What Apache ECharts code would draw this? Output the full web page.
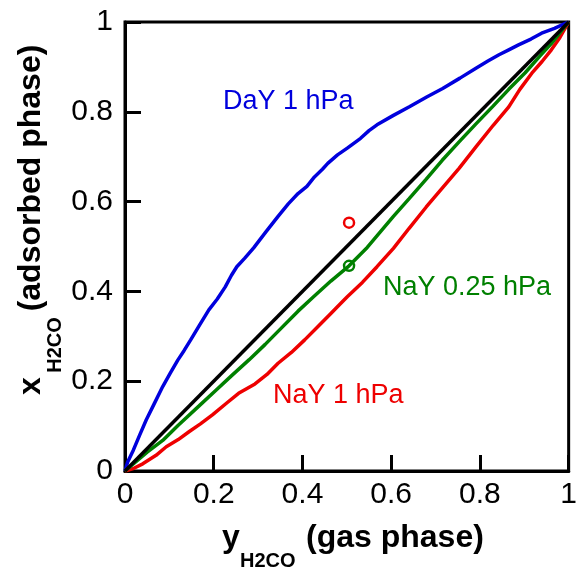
<!DOCTYPE html>
<html>
<head>
<meta charset="utf-8">
<script src="https://cdn.jsdelivr.net/npm/echarts@6/dist/echarts.min.js"></script>
<style>
html,body{margin:0;padding:0;background:#fff;}
#main{width:580px;height:575px;}
</style>
</head>
<body>
<div id="main"></div>
<script>
// ---- data ----
const xTicks = [0, 0.2, 0.4, 0.6, 0.8, 1];
const yTicks = [0, 0.2, 0.4, 0.6, 0.8, 1];

const diagonal = [[0, 0], [1, 1]];

const dayY1hPa = [
  [0, 0], [0.006, 0.02], [0.019, 0.047], [0.033, 0.08], [0.048, 0.114], [0.066, 0.15],
  [0.085, 0.188], [0.102, 0.218], [0.119, 0.247], [0.133, 0.268], [0.148, 0.292],
  [0.168, 0.325], [0.189, 0.359], [0.208, 0.383], [0.226, 0.410], [0.240, 0.436],
  [0.252, 0.455], [0.270, 0.474], [0.290, 0.497], [0.318, 0.533], [0.345, 0.567],
  [0.368, 0.595], [0.390, 0.618], [0.410, 0.634], [0.427, 0.655], [0.445, 0.672],
  [0.457, 0.685], [0.479, 0.704], [0.501, 0.719], [0.531, 0.741], [0.550, 0.758],
  [0.568, 0.771], [0.605, 0.792], [0.642, 0.812], [0.680, 0.833], [0.716, 0.852],
  [0.755, 0.875], [0.791, 0.897], [0.818, 0.913], [0.843, 0.927], [0.865, 0.938],
  [0.887, 0.949], [0.915, 0.962], [0.939, 0.975], [0.968, 0.986], [0.995, 0.998], [1, 1]
];

const naY025hPa = [
  [0, 0], [0.02, 0.017], [0.05, 0.042], [0.085, 0.068], [0.12, 0.102], [0.167, 0.145],
  [0.205, 0.180], [0.241, 0.213], [0.280, 0.248], [0.316, 0.282], [0.350, 0.316],
  [0.390, 0.356], [0.425, 0.388], [0.464, 0.423], [0.505, 0.457], [0.546, 0.498],
  [0.575, 0.532], [0.605, 0.567], [0.640, 0.606], [0.679, 0.650], [0.715, 0.692],
  [0.753, 0.733], [0.790, 0.772], [0.828, 0.811], [0.865, 0.850], [0.902, 0.887],
  [0.935, 0.924], [0.961, 0.952], [0.985, 0.982], [1, 1]
];

const naY1hPa = [
  [0, 0], [0.02, 0.006], [0.04, 0.016], [0.07, 0.035], [0.093, 0.054], [0.12, 0.070],
  [0.145, 0.088], [0.17, 0.105], [0.197, 0.125], [0.23, 0.152], [0.256, 0.173],
  [0.293, 0.194], [0.32, 0.215], [0.345, 0.240], [0.375, 0.264], [0.405, 0.292],
  [0.435, 0.322], [0.464, 0.351], [0.486, 0.373], [0.501, 0.388], [0.535, 0.420],
  [0.568, 0.455], [0.605, 0.496], [0.64, 0.540], [0.679, 0.588], [0.715, 0.630],
  [0.753, 0.674], [0.791, 0.722], [0.83, 0.770], [0.865, 0.811], [0.89, 0.850],
  [0.917, 0.886], [0.94, 0.912], [0.961, 0.938], [0.98, 0.965], [1, 1]
];

const pointRed = [[0.505, 0.553]];
const pointGreen = [[0.505, 0.457]];

const seriesLabels = ['DaY 1 hPa', 'NaY 0.25 hPa', 'NaY 1 hPa'];
const xTitle = ['y', 'H2CO', '(gas phase)'];
const yTitle = ['x', 'H2CO', '(adsorbed phase)'];

// ---- chart ----
const chart = echarts.init(document.getElementById('main'), null, {renderer: 'canvas'});
const FONT = 'Liberation Sans, Arial, Helvetica, sans-serif';
const BLUE = '#0000dd', GREEN = '#008000', RED = '#ee0000';

const axisCommon = {
  type: 'value', min: 0, max: 1, interval: 0.2,
  axisLine: {show: true, lineStyle: {color: '#000', width: 3}},
  axisTick: {show: true, inside: true, length: 16, lineStyle: {color: '#000', width: 3}},
  splitLine: {show: false},
  axisLabel: {color: '#000', fontSize: 30, fontFamily: FONT,
    formatter: v => String(Math.round(v * 10) / 10)}
};

const option = {
  backgroundColor: '#fff',
  animation: false,
  grid: {left: 125, top: 22, width: 449, height: 449, show: true,
         borderColor: '#000', borderWidth: 3, backgroundColor: 'transparent'},
  xAxis: Object.assign({}, axisCommon, {axisLabel: Object.assign({}, axisCommon.axisLabel, {margin: 9})}),
  yAxis: Object.assign({}, axisCommon, {axisLabel: Object.assign({}, axisCommon.axisLabel, {margin: 12})}),
  series: [
    {type: 'line', data: dayY1hPa, showSymbol: false, lineStyle: {color: BLUE, width: 3.5}},
    {type: 'line', data: naY1hPa, showSymbol: false, lineStyle: {color: RED, width: 3.5}},
    {type: 'line', data: naY025hPa, showSymbol: false, lineStyle: {color: GREEN, width: 3.5}},
    {type: 'line', data: diagonal, showSymbol: false, lineStyle: {color: '#000', width: 3.5}},
    {type: 'scatter', data: pointRed, symbol: 'circle', symbolSize: 10,
     itemStyle: {color: '#fff', borderColor: RED, borderWidth: 2.5, opacity: 1}},
    {type: 'scatter', data: pointGreen, symbol: 'circle', symbolSize: 10,
     itemStyle: {color: '#fff', borderColor: GREEN, borderWidth: 2.5, opacity: 1}}
  ],
  graphic: [
    {type: 'text', x: 223, y: 102, style: {text: seriesLabels[0], fill: BLUE, font: '27px ' + FONT, align: 'left', verticalAlign: 'middle'}},
    {type: 'text', x: 383, y: 288, style: {text: seriesLabels[1], fill: GREEN, font: '27px ' + FONT, align: 'left', verticalAlign: 'middle'}},
    {type: 'text', x: 273, y: 396, style: {text: seriesLabels[2], fill: RED, font: '27px ' + FONT, align: 'left', verticalAlign: 'middle'}},
    // x-axis title
    {type: 'text', x: 222, y: 538, style: {text: xTitle[0], fill: '#000', font: 'bold 32px ' + FONT, align: 'left', verticalAlign: 'middle'}},
    {type: 'text', x: 240, y: 561, style: {text: xTitle[1], fill: '#000', font: 'bold 20px ' + FONT, align: 'left', verticalAlign: 'middle'}},
    {type: 'text', x: 306, y: 538, style: {text: xTitle[2], fill: '#000', font: 'bold 32px ' + FONT, align: 'left', verticalAlign: 'middle'}},
    // y-axis title (rotated)
    {type: 'text', x: 31, y: 386, rotation: Math.PI / 2, style: {text: yTitle[0], fill: '#000', font: 'bold 32px ' + FONT, align: 'center', verticalAlign: 'middle'}},
    {type: 'text', x: 55, y: 345, rotation: Math.PI / 2, style: {text: yTitle[1], fill: '#000', font: 'bold 20px ' + FONT, align: 'center', verticalAlign: 'middle'}},
    {type: 'text', x: 31, y: 178, rotation: Math.PI / 2, style: {text: yTitle[2], fill: '#000', font: 'bold 32px ' + FONT, align: 'center', verticalAlign: 'middle'}}
  ]
};
chart.setOption(option);
</script>
</body>
</html>
